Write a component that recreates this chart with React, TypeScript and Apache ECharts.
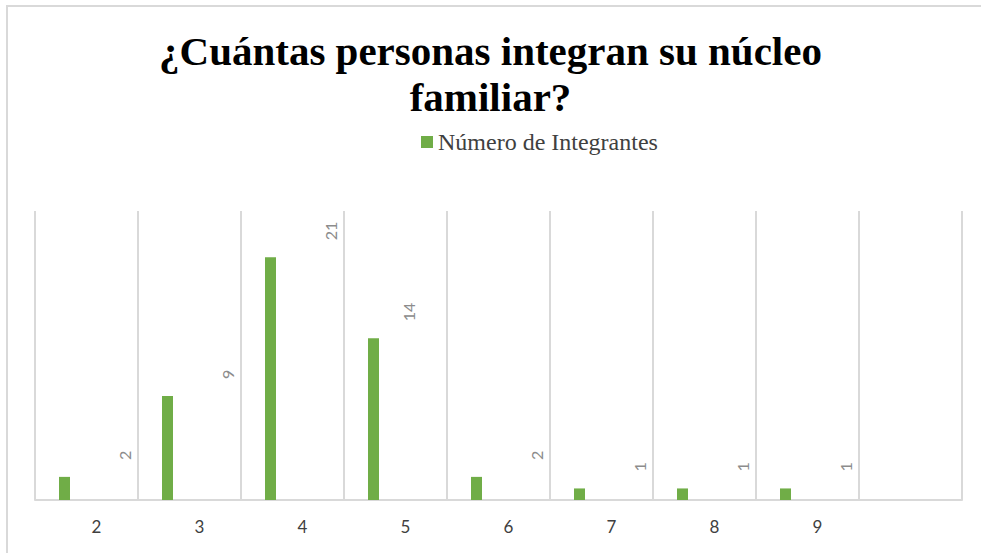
import React, { useEffect, useRef } from "react";
import * as echarts from "echarts";

const categories = ["2", "3", "4", "5", "6", "7", "8", "9", ""];
const seriesName = "Número de Integrantes";
const values: (number | null)[] = [2, 9, 21, 14, 2, 1, 1, 1, null];
const titleText = "¿Cuántas personas integran su núcleo\nfamiliar?";

export default function App() {
  const ref = useRef<HTMLDivElement>(null);
  useEffect(() => {
    if (!ref.current) return;
    const chart = echarts.init(ref.current, null, { renderer: "svg" });
    const labelBase = {
      show: true,
      position: "top",
      distance: 17,
      rotate: 90,
      align: "left",
      verticalAlign: "middle",
      offset: [0, 60],
      color: "#8c8c8c",
      fontFamily: "Lato, 'Open Sans', sans-serif",
      fontSize: 16,
    };
    const data = values.map((v) => {
      if (v === 14) {
        return { value: v, label: { ...labelBase, offset: [0, 35] } };
      }
      return v;
    });
    const spacer = values.map(() => null);
    chart.setOption({
      animation: false,
      backgroundColor: "#ffffff",
      title: {
        text: titleText,
        left: "center",
        top: 28,
        padding: 0,
        textStyle: {
          fontFamily: "'Liberation Serif', 'Times New Roman', serif",
          fontWeight: "bold",
          fontSize: 41,
          lineHeight: 46,
          color: "#000000",
        },
      },
      legend: {
        data: [seriesName],
        left: 421,
        top: 130,
        padding: 0,
        icon: "rect",
        itemWidth: 12,
        itemHeight: 12,
        textStyle: {
          fontFamily: "'Liberation Serif', 'Times New Roman', serif",
          fontSize: 24,
          color: "#404040",
        },
      },
      graphic: [
        {
          type: "rect",
          shape: { x: 7, y: 6, width: 1000, height: 600 },
          style: { fill: "none", stroke: "#d9d9d9", lineWidth: 2 },
          silent: true,
        },
      ],
      grid: { left: 35, right: 19, top: 211, bottom: 53, containLabel: false },
      xAxis: {
        type: "category",
        data: categories,
        boundaryGap: true,
        axisLine: { show: true, lineStyle: { color: "#d9d9d9", width: 2 } },
        axisTick: { show: false },
        splitLine: { show: true, lineStyle: { color: "#d9d9d9", width: 2 } },
        axisLabel: {
          color: "#404040",
          fontFamily: "Lato, 'Open Sans', sans-serif",
          fontSize: 17,
          margin: 18,
          padding: [0, 0, 0, 20],
          interval: 0,
        },
      },
      yAxis: {
        type: "value",
        min: 0,
        max: 25,
        show: false,
        splitLine: { show: false },
      },
      series: [
        {
          name: seriesName,
          type: "bar",
          data,
          barWidth: 11,
          barGap: 0,
          itemStyle: { color: "#70ad47" },
          label: labelBase,
        },
        {
          name: "spacer",
          type: "bar",
          data: spacer,
          barWidth: 44,
          barGap: 0,
          silent: true,
          itemStyle: { color: "rgba(0,0,0,0)" },
          label: { show: false },
        },
      ],
    });
    return () => chart.dispose();
  }, []);
  return (
    <div
      ref={ref}
      style={{ position: "fixed", left: 0, top: 0, width: 981, height: 553 }}
    />
  );
}
